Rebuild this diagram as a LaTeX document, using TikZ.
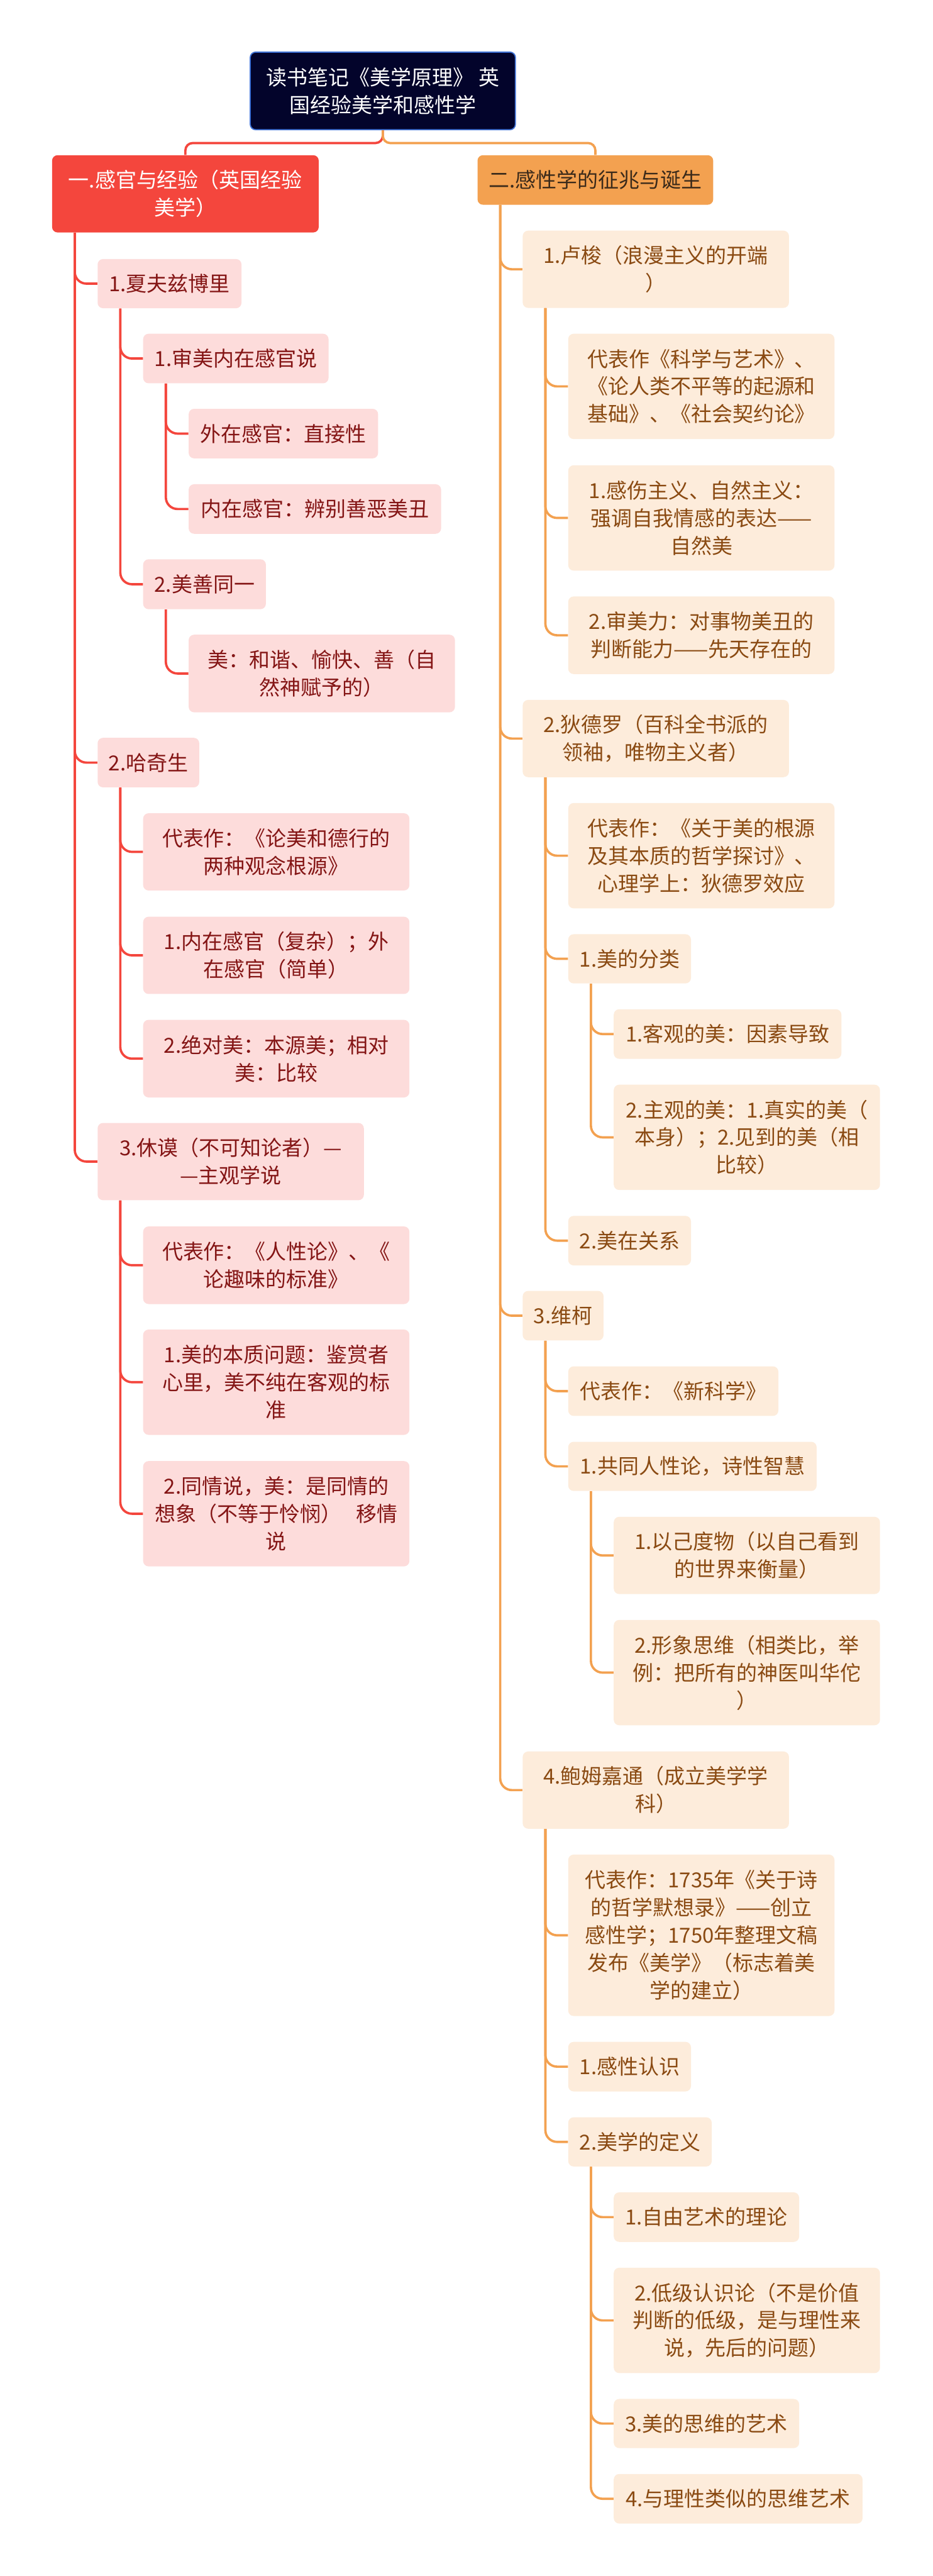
\documentclass[tikz,border=0pt]{standalone}
\usepackage{fontspec}
\newfontfamily\cjk{Noto Sans CJK SC}

\definecolor{rootfill}{HTML}{03042B}
\definecolor{rootedge}{HTML}{3F72D6}
\definecolor{redmain}{HTML}{F4463D}
\definecolor{orangemain}{HTML}{F3A150}
\definecolor{orangetext}{HTML}{3B2A1A}
\definecolor{pinkfill}{HTML}{FDDCDB}
\definecolor{pinktext}{HTML}{841515}
\definecolor{creamfill}{HTML}{FDECDB}
\definecolor{creamtext}{HTML}{8A4A12}

\begin{document}
\begin{tikzpicture}[
  box/.style={rounded corners=0.15cm, inner sep=0pt, align=center,
    font=\cjk\fontsize{16.2}{21.6}\selectfont},
  rootbox/.style={box, fill=rootfill, draw=rootedge, line width=0.9pt, text=white},
  redbox/.style={box, fill=redmain, text=white},
  orangebox/.style={box, fill=orangemain, text=orangetext},
  pinkbox/.style={box, fill=pinkfill, text=pinktext},
  creambox/.style={box, fill=creamfill, text=creamtext},
  redline/.style={draw=redmain, line width=1.8pt, rounded corners=0.32cm},
  orangeline/.style={draw=orangemain, line width=1.8pt, rounded corners=0.32cm}]

  \fill[white] (0,0) rectangle (25.6,-70.7);
  \useasboundingbox (0,0) rectangle (25.6,-70.7);

  % Title and the two main branches
  \node[rootbox, minimum width=7.28cm, minimum height=2.13cm] (title) at (10.51,-2.495) {读书笔记《美学原理》 英\\国经验美学和感性学};
  \node[redbox, minimum width=7.32cm, minimum height=2.12cm] (empir) at (5.09,-5.32) {一.感官与经验（英国经验\\美学）};
  \node[orangebox, minimum width=6.47cm, minimum height=1.36cm] (birth) at (16.345,-4.94) {二.感性学的征兆与诞生};

  \draw[redline, rounded corners=0.2cm] (title.south) -- ++(0,-0.35) -| (empir.north);
  \draw[orangeline, rounded corners=0.2cm] (title.south) -- ++(0,-0.35) -| (birth.north);

  % Left branch: Shaftesbury
  \node[pinkbox, minimum width=3.95cm, minimum height=1.35cm] (shaft) at (4.655,-7.785) {1.夏夫兹博里};
  \node[pinkbox, minimum width=5.09cm, minimum height=1.36cm] (shaftA) at (6.475,-9.84) {1.审美内在感官说};
  \node[pinkbox, minimum width=5.20cm, minimum height=1.36cm] (shaftAa) at (7.78,-11.90) {外在感官：直接性};
  \node[pinkbox, minimum width=6.93cm, minimum height=1.36cm] (shaftAb) at (8.645,-13.97) {内在感官：辨别善恶美丑};
  \node[pinkbox, minimum width=3.37cm, minimum height=1.37cm] (shaftB) at (5.615,-16.035) {2.美善同一};
  \node[pinkbox, minimum width=7.31cm, minimum height=2.13cm] (shaftBa) at (8.835,-18.485) {美：和谐、愉快、善（自\\然神赋予的）};

  % Left branch: Hutcheson
  \node[pinkbox, minimum width=2.79cm, minimum height=1.36cm] (hutch) at (4.075,-20.93) {2.哈奇生};
  \node[pinkbox, minimum width=7.31cm, minimum height=2.12cm] (hutchA) at (7.585,-23.38) {代表作：《论美和德行的\\两种观念根源》};
  \node[pinkbox, minimum width=7.31cm, minimum height=2.12cm] (hutchB) at (7.585,-26.22) {1.内在感官（复杂）；外\\在感官（简单）};
  \node[pinkbox, minimum width=7.31cm, minimum height=2.13cm] (hutchC) at (7.585,-29.055) {2.绝对美：本源美；相对\\美：比较};

  % Left branch: Hume
  \node[pinkbox, minimum width=7.31cm, minimum height=2.12cm] (hume) at (6.335,-31.88) {3.休谟（不可知论者）—\\—主观学说};
  \node[pinkbox, minimum width=7.31cm, minimum height=2.13cm] (humeA) at (7.585,-34.725) {代表作：《人性论》、《\\论趣味的标准》};
  \node[pinkbox, minimum width=7.31cm, minimum height=2.89cm] (humeB) at (7.585,-37.935) {1.美的本质问题：鉴赏者\\心里，美不纯在客观的标\\准};
  \node[pinkbox, minimum width=7.31cm, minimum height=2.89cm] (humeC) at (7.585,-41.545) {2.同情说，美：是同情的\\想象（不等于怜悯）\hspace{0.7em}移情\\说};

  \draw[redline] ([xshift=0.63cm]empir.south west) |- (shaft.west);
  \draw[redline] ([xshift=0.63cm]empir.south west) |- (hutch.west);
  \draw[redline] ([xshift=0.63cm]empir.south west) |- (hume.west);
  \draw[redline] ([xshift=0.63cm]shaft.south west) |- (shaftA.west);
  \draw[redline] ([xshift=0.63cm]shaft.south west) |- (shaftB.west);
  \draw[redline] ([xshift=0.63cm]shaftA.south west) |- (shaftAa.west);
  \draw[redline] ([xshift=0.63cm]shaftA.south west) |- (shaftAb.west);
  \draw[redline] ([xshift=0.63cm]shaftB.south west) |- (shaftBa.west);
  \draw[redline] ([xshift=0.63cm]hutch.south west) |- (hutchA.west);
  \draw[redline] ([xshift=0.63cm]hutch.south west) |- (hutchB.west);
  \draw[redline] ([xshift=0.63cm]hutch.south west) |- (hutchC.west);
  \draw[redline] ([xshift=0.63cm]hume.south west) |- (humeA.west);
  \draw[redline] ([xshift=0.63cm]hume.south west) |- (humeB.west);
  \draw[redline] ([xshift=0.63cm]hume.south west) |- (humeC.west);

  % Right branch: Rousseau
  \node[creambox, minimum width=7.31cm, minimum height=2.12cm] (rousseau) at (18.005,-7.39) {1.卢梭（浪漫主义的开端\\）};
  \node[creambox, minimum width=7.31cm, minimum height=2.89cm] (rouA) at (19.255,-10.605) {代表作《科学与艺术》、\\《论人类不平等的起源和\\基础》、《社会契约论》};
  \node[creambox, minimum width=7.31cm, minimum height=2.89cm] (rouB) at (19.255,-14.215) {1.感伤主义、自然主义：\\强调自我情感的表达——\\自然美};
  \node[creambox, minimum width=7.31cm, minimum height=2.13cm] (rouC) at (19.255,-17.435) {2.审美力：对事物美丑的\\判断能力——先天存在的};

  % Right branch: Diderot
  \node[creambox, minimum width=7.31cm, minimum height=2.12cm] (diderot) at (18.005,-20.27) {2.狄德罗（百科全书派的\\领袖，唯物主义者）};
  \node[creambox, minimum width=7.31cm, minimum height=2.89cm] (didA) at (19.255,-23.485) {代表作：《关于美的根源\\及其本质的哲学探讨》、\\心理学上：狄德罗效应};
  \node[creambox, minimum width=3.37cm, minimum height=1.35cm] (didB) at (17.285,-26.315) {1.美的分类};
  \node[creambox, minimum width=6.25cm, minimum height=1.36cm] (didBa) at (19.975,-28.38) {1.客观的美：因素导致};
  \node[creambox, minimum width=7.31cm, minimum height=2.89cm] (didBb) at (20.505,-31.215) {2.主观的美：1.真实的美（\\本身）；2.见到的美（相\\比较）};
  \node[creambox, minimum width=3.37cm, minimum height=1.36cm] (didC) at (17.285,-34.05) {2.美在关系};

  % Right branch: Vico
  \node[creambox, minimum width=2.22cm, minimum height=1.36cm] (vico) at (15.46,-36.11) {3.维柯};
  \node[creambox, minimum width=5.77cm, minimum height=1.36cm] (vicoA) at (18.485,-38.18) {代表作：《新科学》};
  \node[creambox, minimum width=6.82cm, minimum height=1.35cm] (vicoB) at (19.01,-40.245) {1.共同人性论，诗性智慧};
  \node[creambox, minimum width=7.31cm, minimum height=2.12cm] (vicoBa) at (20.505,-42.69) {1.以己度物（以自己看到\\的世界来衡量）};
  \node[creambox, minimum width=7.31cm, minimum height=2.89cm] (vicoBb) at (20.505,-45.905) {2.形象思维（相类比，举\\例：把所有的神医叫华佗\\）};

  % Right branch: Baumgarten
  \node[creambox, minimum width=7.31cm, minimum height=2.12cm] (baum) at (18.005,-49.13) {4.鲍姆嘉通（成立美学学\\科）};
  \node[creambox, minimum width=7.31cm, minimum height=4.43cm] (baumA) at (19.255,-53.115) {代表作：1735年《关于诗\\的哲学默想录》——创立\\感性学；1750年整理文稿\\发布《美学》（标志着美\\学的建立）};
  \node[creambox, minimum width=3.37cm, minimum height=1.36cm] (baumB) at (17.285,-56.72) {1.感性认识};
  \node[creambox, minimum width=3.94cm, minimum height=1.35cm] (baumC) at (17.57,-58.785) {2.美学的定义};
  \node[creambox, minimum width=5.09cm, minimum height=1.36cm] (baumCa) at (19.395,-60.85) {1.自由艺术的理论};
  \node[creambox, minimum width=7.31cm, minimum height=2.89cm] (baumCb) at (20.505,-63.685) {2.低级认识论（不是价值\\判断的低级，是与理性来\\说，先后的问题）};
  \node[creambox, minimum width=5.09cm, minimum height=1.35cm] (baumCc) at (19.395,-66.515) {3.美的思维的艺术};
  \node[creambox, minimum width=6.83cm, minimum height=1.36cm] (baumCd) at (20.265,-68.58) {4.与理性类似的思维艺术};

  \draw[orangeline] ([xshift=0.63cm]birth.south west) |- (rousseau.west);
  \draw[orangeline] ([xshift=0.63cm]birth.south west) |- (diderot.west);
  \draw[orangeline] ([xshift=0.63cm]birth.south west) |- (vico.west);
  \draw[orangeline] ([xshift=0.63cm]birth.south west) |- (baum.west);
  \draw[orangeline] ([xshift=0.63cm]rousseau.south west) |- (rouA.west);
  \draw[orangeline] ([xshift=0.63cm]rousseau.south west) |- (rouB.west);
  \draw[orangeline] ([xshift=0.63cm]rousseau.south west) |- (rouC.west);
  \draw[orangeline] ([xshift=0.63cm]diderot.south west) |- (didA.west);
  \draw[orangeline] ([xshift=0.63cm]diderot.south west) |- (didB.west);
  \draw[orangeline] ([xshift=0.63cm]diderot.south west) |- (didC.west);
  \draw[orangeline] ([xshift=0.63cm]didB.south west) |- (didBa.west);
  \draw[orangeline] ([xshift=0.63cm]didB.south west) |- (didBb.west);
  \draw[orangeline] ([xshift=0.63cm]vico.south west) |- (vicoA.west);
  \draw[orangeline] ([xshift=0.63cm]vico.south west) |- (vicoB.west);
  \draw[orangeline] ([xshift=0.63cm]vicoB.south west) |- (vicoBa.west);
  \draw[orangeline] ([xshift=0.63cm]vicoB.south west) |- (vicoBb.west);
  \draw[orangeline] ([xshift=0.63cm]baum.south west) |- (baumA.west);
  \draw[orangeline] ([xshift=0.63cm]baum.south west) |- (baumB.west);
  \draw[orangeline] ([xshift=0.63cm]baum.south west) |- (baumC.west);
  \draw[orangeline] ([xshift=0.63cm]baumC.south west) |- (baumCa.west);
  \draw[orangeline] ([xshift=0.63cm]baumC.south west) |- (baumCb.west);
  \draw[orangeline] ([xshift=0.63cm]baumC.south west) |- (baumCc.west);
  \draw[orangeline] ([xshift=0.63cm]baumC.south west) |- (baumCd.west);
\end{tikzpicture}
\end{document}
